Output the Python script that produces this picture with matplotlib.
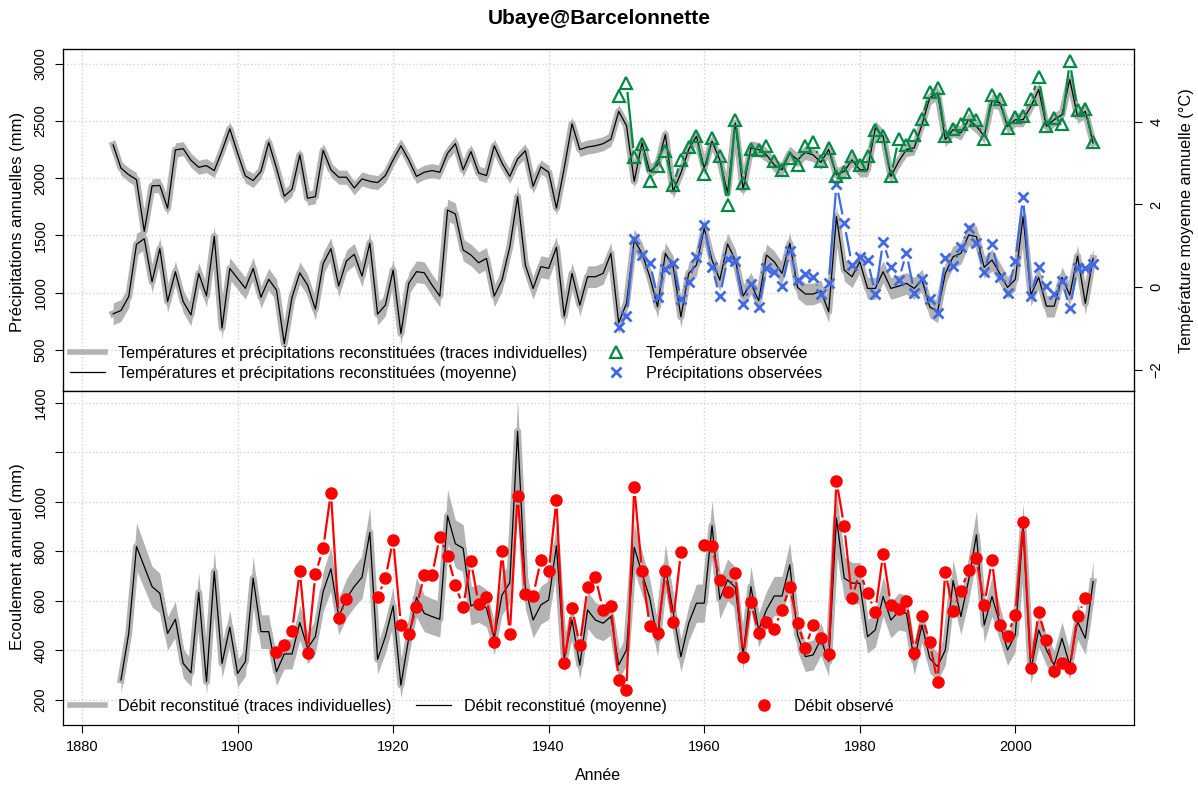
import numpy as np
import matplotlib
matplotlib.use("Agg")
import matplotlib.pyplot as plt
from matplotlib.collections import LineCollection
from matplotlib.lines import Line2D

plt.rcParams['font.family'] = ['Liberation Sans', 'DejaVu Sans']

# --- données ---
annees_clim = np.arange(1884, 2011)
temp_moy = [3.44, 2.88, 2.72, 2.60, 1.35, 2.45, 2.46, 1.91, 3.32, 3.35, 3.07, 2.90, 2.94, 2.82, 3.30, 3.83,
            3.24, 2.69, 2.58, 2.80, 3.50, 2.88, 2.20, 2.37, 3.20, 2.15, 2.19, 3.31, 2.84, 2.66, 2.66, 2.40,
            2.62, 2.56, 2.53, 2.70, 3.08, 3.42, 3.08, 2.68, 2.78, 2.82, 2.78, 3.24, 3.47, 2.84, 3.28, 2.76,
            2.70, 3.42, 3.00, 2.68, 3.10, 3.30, 2.44, 2.91, 2.78, 1.91, 2.88, 3.95, 3.33, 3.39, 3.42, 3.47,
            3.58, 4.25, 3.91, 2.56, 3.49, 2.80, 2.96, 3.69, 2.32, 2.76, 3.33, 3.65, 2.88, 3.53, 3.08, 2.28,
            3.97, 2.36, 3.37, 3.33, 3.20, 2.96, 2.84, 3.24, 3.08, 3.26, 3.20, 3.02, 3.33, 2.72, 2.80, 3.08,
            2.84, 2.84, 3.85, 3.65, 2.68, 3.04, 3.33, 3.37, 3.93, 4.58, 4.70, 3.57, 3.81, 3.73, 4.05, 3.89,
            3.65, 4.50, 4.46, 3.89, 4.05, 4.05, 4.37, 4.78, 3.89, 4.05, 4.17, 5.02, 4.13, 4.25, 3.49]
precip_moy = [815, 844, 965, 1422, 1471, 1095, 1384, 922, 1182, 922, 806, 1168, 971, 1491, 691, 1211,
              1124, 1038, 1211, 960, 1116, 1023, 555, 960, 1173, 1066, 856, 1254, 1384, 1058, 1277, 1335,
              1145, 1433, 812, 891, 1197, 643, 1081, 1183, 1174, 1066, 970, 1722, 1687, 1372, 1329, 1261,
              1299, 970, 1110, 1401, 1839, 1241, 1037, 1227, 1212, 1396, 795, 1168, 891, 1139, 1139, 1168,
              1343, 736, 906, 1460, 1343, 1139, 876, 1343, 1227, 789, 1168, 1241, 1562, 1285, 1110, 1425,
              1285, 970, 1081, 929, 1329, 1270, 1168, 1431, 1046, 988, 988, 1015, 833, 1664, 1197, 1139,
              1270, 1037, 1037, 1183, 1037, 1057, 1081, 1037, 1110, 876, 833, 1168, 1314, 1343, 1504, 1489,
              1221, 1285, 1168, 1046, 1116, 1664, 979, 1133, 882, 882, 1133, 979, 1320, 906, 1299]

annees_obs_clim = np.arange(1949, 2011)
temp_obs = [4.62, 4.94, 3.15, 3.47, 2.58, 2.92, 3.30, 2.46, 3.08, 3.39, 3.65, 2.74, 3.60, 3.18, 1.99, 4.05,
            2.52, 3.35, 3.31, 3.41, 3.04, 2.84, 3.12, 2.95, 3.42, 3.50, 3.04, 3.37, 2.68, 2.78, 3.18, 2.96,
            3.17, 3.79, 3.65, 2.68, 3.59, 3.45, 3.67, 4.06, 4.72, 4.82, 3.65, 3.83, 3.94, 4.18, 4.04, 3.59,
            4.64, 4.54, 3.85, 4.12, 4.15, 4.56, 5.08, 3.91, 4.09, 3.94, 5.46, 4.28, 4.30, 3.51]
precip_obs = [696, 795, 1466, 1329, 1261, 964, 1209, 1261, 941, 1095, 1308, 1591, 1221, 970, 1294, 1279,
              900, 1072, 871, 1212, 1177, 1057, 1364, 1110, 1162, 1139, 990, 1081, 1950, 1606, 1241, 1308,
              1285, 987, 1445, 1227, 1110, 1349, 999, 1116, 941, 824, 1299, 1232, 1401, 1562, 1431, 1177,
              1425, 1133, 999, 1279, 1839, 970, 1221, 1057, 987, 1104, 862, 1212, 1212, 1250]

annees_debit = np.arange(1885, 2011)
debit_moy = [280, 468, 819, 738, 657, 630, 468, 525, 347, 309, 633, 273, 718, 347, 493, 306,
             354, 691, 475, 475, 313, 385, 385, 512, 408, 455, 637, 729, 536, 610, 657, 695,
             876, 363, 455, 579, 259, 448, 614, 549, 536, 525, 943, 830, 812, 579, 590, 570,
             448, 623, 673, 1284, 650, 522, 583, 603, 822, 367, 522, 340, 563, 522, 509, 536,
             340, 401, 816, 711, 610, 441, 738, 556, 374, 509, 590, 590, 903, 606, 684, 654,
             381, 657, 482, 563, 619, 619, 745, 462, 374, 381, 445, 354, 934, 691, 671, 671,
             455, 482, 617, 522, 556, 549, 360, 502, 367, 334, 401, 681, 536, 684, 866, 502,
             617, 509, 401, 462, 893, 320, 482, 401, 340, 448, 340, 516, 448, 677]
nan = np.nan
annees_debit_obs = np.arange(1905, 2011)
debit_obs = [393, 421, 476, 720, 387, 707, 811, 1037, 532, 606, nan, nan, nan, 613, 691, 846,
             502, 464, 576, 702, 702, 859, 781, 664, 575, 761, 586, 617, 432, 799, 464, 1024,
             626, 621, 765, 718, 1008, 347, 570, 421, 654, 695, 563, 579, 280, 239, 1059, 718,
             499, 468, 718, 516, 796, nan, nan, 824, 819, 684, 637, 712, 374, 594, 468, 516,
             486, 563, 657, 509, 410, 502, 451, 383, 1085, 900, 610, 718, 630, 556, 789, 582,
             567, 599, 390, 538, 432, 270, 717, 560, 640, 725, 772, 583, 764, 501, 459, 543,
             917, 330, 553, 441, 316, 347, 327, 538, 610, nan]

GRIS = "#b3b3b3"
VERT = "#008b45"
BLEU = "#4169e1"
ROUGE = "#ff0000"
W, H = 1198, 787


def type_b(ax, x, y, couleur, gap=9, lw=1.6):
    # lignes type "b" de R : segments raccourcis autour des points
    pts = ax.transData.transform(np.column_stack([x, np.asarray(y, float)]))
    inv = ax.transData.inverted()
    segs = []
    for p, q in zip(pts[:-1], pts[1:]):
        if np.isnan(p).any() or np.isnan(q).any():
            continue
        d = q - p
        L = np.hypot(*d)
        if L <= 2 * gap:
            continue
        u = d / L
        segs.append(inv.transform([p + u * gap, q - u * gap]))
    ax.add_collection(LineCollection(segs, colors=couleur, linewidths=lw, zorder=4))


def bande(ax, x, moy, bas, haut):
    ax.fill_between(x, bas, haut, color=GRIS, lw=0, zorder=1)
    ax.plot(x, moy, color=GRIS, lw=5, zorder=1, solid_joinstyle="round")
    ax.plot(x, moy, color="black", lw=0.9, zorder=2)


fig = plt.figure(figsize=(W / 100, H / 100), dpi=100)
x0, x1 = 63 / W, 1134 / W
ax1 = fig.add_axes([x0, 1 - 391 / H, x1 - x0, (391 - 49) / H])
ax2 = fig.add_axes([x0, 1 - 725 / H, x1 - x0, (725 - 391) / H])
ax1r = ax1.twinx()

xlim = (1877.55, 2015.26)
for ax in (ax1, ax2):
    ax.set_xlim(*xlim)
    ax.set_xticks(np.arange(1880, 2001, 20))
    ax.grid(color="#d3d3d3", linestyle=":", linewidth=1)
    ax.set_axisbelow(True)
    ax.tick_params(labelsize=10.5, length=6, width=0.8, pad=5)
    for s in ax.spines.values():
        s.set_linewidth(0.9)

ax1.set_ylim(141, 3128)
ax1r.set_ylim(-2.51, 5.76)
ax2.set_ylim(98, 1447)

ax1.set_yticks([500, 1000, 1500, 2000, 2500, 3000])
ax1r.set_yticks([-2, 0, 2, 4])
ax2.set_yticks([200, 400, 600, 800, 1000, 1200, 1400])
ax2.set_yticklabels(["200", "400", "600", "800", "1000", "", "1400"])
ax1.tick_params(axis="x", length=0, labelbottom=False)
ax1.tick_params(axis="y", labelrotation=90)
ax2.tick_params(axis="y", labelrotation=90)
ax1r.tick_params(axis="y", labelrotation=90, labelsize=10.5, length=6, width=0.8, pad=5)
for lab in ax1.get_yticklabels() + ax2.get_yticklabels() + ax1r.get_yticklabels():
    lab.set_verticalalignment("center")

# panneau du haut : bandes reconstituées
tm = np.array(temp_moy)
pm = np.array(precip_moy)
bande(ax1r, annees_clim, tm, tm - 0.17, tm + 0.17)
bande(ax1, annees_clim, pm, pm - 95, pm + 95)

# observations
type_b(ax1r, annees_obs_clim, temp_obs, VERT)
ax1r.plot(annees_obs_clim, temp_obs, ls="none", marker="^", ms=8.5, mfc="none",
          mec=VERT, mew=1.6, zorder=5)
type_b(ax1, annees_obs_clim, precip_obs, BLEU)
ax1.plot(annees_obs_clim, precip_obs, ls="none", marker="x", ms=7, mec=BLEU, mew=2, zorder=5)

# panneau du bas
dm = np.array(debit_moy, float)
bande(ax2, annees_debit, dm, dm - (30 + 0.08 * dm), dm + (30 + 0.08 * dm))
type_b(ax2, annees_debit_obs, debit_obs, ROUGE)
ax2.plot(annees_debit_obs, debit_obs, ls="none", marker="o", ms=8, color=ROUGE, zorder=5)

# textes
fig.text(0.5, 1 - 19 / H, "Ubaye@Barcelonnette", ha="center", va="center",
         fontsize=15, fontweight="bold")
fig.text(18 / W, 1 - 222 / H, "Précipitations annuelles (mm)", rotation=90,
         ha="center", va="center", fontsize=12)
fig.text(1186 / W, 1 - 221 / H, "Température moyenne annuelle (°C)", rotation=90,
         ha="center", va="center", fontsize=11.8)
fig.text(18 / W, 1 - 557 / H, "Ecoulement annuel (mm)", rotation=90,
         ha="center", va="center", fontsize=12)
fig.text(598 / W, 1 - 776 / H, "Année", ha="center", va="center", fontsize=11.5)

# légendes
leg_kw = dict(frameon=False, fontsize=11.6, handlelength=2.2, handletextpad=0.75,
              borderpad=0, borderaxespad=0, labelspacing=0.3, loc="upper left")
h_gris = Line2D([], [], color=GRIS, lw=4)
h_noir = Line2D([], [], color="black", lw=0.9)
fig.legend([h_gris, h_noir],
           ["Températures et précipitations reconstituées (traces individuelles)",
            "Températures et précipitations reconstituées (moyenne)"],
           bbox_to_anchor=(70 / W, 1 - 346 / H), **leg_kw)
fig.legend([Line2D([], [], ls="none", marker="^", ms=8.5, mfc="none", mec=VERT, mew=1.6),
            Line2D([], [], ls="none", marker="x", ms=7, mec=BLEU, mew=2)],
           ["Température observée", "Précipitations observées"],
           bbox_to_anchor=(598 / W, 1 - 346 / H), **leg_kw)
fig.legend([h_gris], ["Débit reconstitué (traces individuelles)"],
           bbox_to_anchor=(70 / W, 1 - 699 / H), **leg_kw)
fig.legend([h_noir], ["Débit reconstitué (moyenne)"],
           bbox_to_anchor=(416 / W, 1 - 699 / H), **leg_kw)
fig.legend([Line2D([], [], ls="none", marker="o", ms=8, color=ROUGE)], ["Débit observé"],
           bbox_to_anchor=(746 / W, 1 - 699 / H), **leg_kw)

fig.savefig("out.png", dpi=100)
